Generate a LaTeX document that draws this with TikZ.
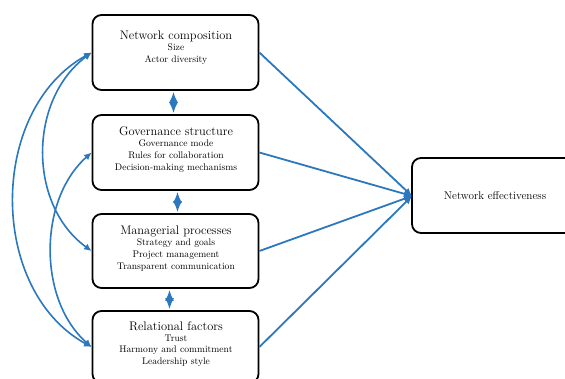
\documentclass[tikz,border=0pt]{standalone}
\usetikzlibrary{arrows.meta}
\definecolor{arrblue}{RGB}{44,120,190}
\begin{document}
\begin{tikzpicture}[x=1pt,y=-1pt,
  box/.style={draw=black,line width=1.8pt,rounded corners=9pt,minimum width=166pt,inner sep=0pt},
  ttl/.style={font=\fontsize{12.4}{14}\selectfont,inner sep=0pt},
  sub/.style={font=\fontsize{9.6}{11.6}\selectfont,align=center,inner sep=0pt},
  conn/.style={draw=arrblue,line width=1.8pt,-{Latex[length=8pt,width=7pt]}},
  curv/.style={draw=arrblue,line width=1.6pt,{Latex[length=7.5pt,width=7pt]}-{Latex[length=7.5pt,width=7pt]}},
  dbl/.style={draw=arrblue,line width=1.5pt,{Latex[length=11pt,width=9pt]}-{Latex[length=11pt,width=9pt]}}]
\useasboundingbox (0,0) rectangle (565,378);
\clip (0,0) rectangle (565,378);
\fill[white] (0,0) rectangle (565,378);
% boxes
\node[box,minimum height=75pt] (nc) at (175.5,52.5) {};
\node[box,minimum height=75pt] (gs) at (175.5,152.5) {};
\node[box,minimum height=74pt] (mp) at (175.5,251) {};
\node[box,minimum height=72pt] (rf) at (175.5,347) {};
\node[draw=black,line width=1.8pt,rounded corners=9pt,minimum width=200pt,minimum height=75pt,inner sep=0pt] (ne) at (512,195.5) {};
% texts
\node[ttl] (nct) at (176,36) {Network composition};
\node[sub,anchor=north] (ncs) at (176,44) {Size\\Actor diversity};
\node[ttl] (gst) at (176,131) {Governance structure};
\node[sub,anchor=north] (gss) at (176,140) {Governance mode\\Rules for collaboration\\Decision-making mechanisms};
\node[ttl] (mpt) at (176,231) {Managerial processes};
\node[sub,anchor=north] (mps) at (176,239) {Strategy and goals\\Project management\\Transparent communication};
\node[ttl] (rft) at (176,326) {Relational factors};
\node[sub,anchor=north] (rfs) at (176,334.5) {Trust\\Harmony and commitment\\Leadership style};
\node[font=\fontsize{11.2}{13}\selectfont,inner sep=0pt] (net) at (495,196) {Network effectiveness};
% connectors to effectiveness
\coordinate (tip) at (412,196);
\draw[conn] (nc.east) -- (tip);
\draw[conn] (gs.east) -- (tip);
\draw[conn] (mp.east) -- (tip);
\draw[conn] (rf.east) -- (tip);
% vertical double arrows
\draw[dbl] ([xshift=-2pt,yshift=-1pt]nc.south) -- ([xshift=-2pt,yshift=1pt]gs.north);
\draw[dbl] ([xshift=2pt,yshift=-1pt]gs.south) -- ([xshift=2pt,yshift=1pt]mp.north);
\draw[dbl] ([xshift=-6pt,yshift=-1pt]mp.south) -- ([xshift=-6pt,yshift=1pt]rf.north);
% left curves
\draw[curv] (nc.west) .. controls (-12,110) and (-12,290) .. (rf.west);
\draw[curv] (nc.west) .. controls (28,100) and (28,205) .. (mp.west);
\draw[curv] (gs.west) .. controls (38,200) and (38,300) .. (rf.west);
\end{tikzpicture}
\end{document}
